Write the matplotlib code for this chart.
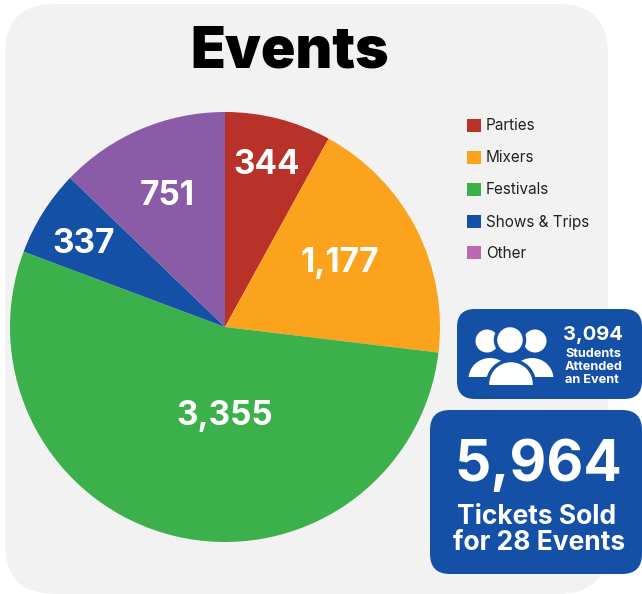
import matplotlib
matplotlib.use("Agg")
import matplotlib.pyplot as plt
from matplotlib.patches import FancyBboxPatch, Rectangle, Circle, Ellipse

categories = ["Parties", "Mixers", "Festivals", "Shows & Trips", "Other"]
# slice shares as drawn in the picture (%), they differ a bit from the printed counts
slice_shares = [8.0, 18.9, 53.8, 6.5, 12.8]
value_labels = ["344", "1,177", "3,355", "337", "751"]
slice_colors = ["#B8322A", "#FBA31C", "#3BB04B", "#1450A5", "#8A5CA8"]
legend_colors = ["#B8322A", "#FBA31C", "#3BB04B", "#1450A5", "#BC67AE"]
label_xy = [(267, 165), (340, 263), (225, 416), (84, 244), (167, 196)]
legend_y = [126, 158, 190, 222, 253]

plt.rcParams['font.family'] = ['Inter', 'DejaVu Sans']

W, H = 642, 594
BLUE = "#1450A5"
fig = plt.figure(figsize=(W / 100, H / 100), dpi=100, facecolor="white")
ax = fig.add_axes([0, 0, 1, 1])
ax.set_xlim(0, W)
ax.set_ylim(H, 0)
ax.axis("off")

# background card
ax.add_patch(FancyBboxPatch((5, 4), 603, 590, boxstyle="round,pad=0,rounding_size=50", fc="#F2F2F2", ec="none"))

ax.text(290, 53, "Events", fontsize=41, fontweight="black", ha="center", va="center", color="black")

# pie, clockwise from 12 o'clock
cx, cy, r = 225, 327, 215
pie_ax = fig.add_axes([(cx - r) / W, 1 - (cy + r) / H, 2 * r / W, 2 * r / H])
pie_ax.pie(slice_shares, colors=slice_colors, startangle=90, counterclock=False, radius=1)
pie_ax.set_xlim(-1, 1)
pie_ax.set_ylim(-1, 1)
pie_ax.patch.set_alpha(0)

# text layer above the pie
top = fig.add_axes([0, 0, 1, 1])
top.set_xlim(0, W)
top.set_ylim(H, 0)
top.axis("off")

for txt, (x, y) in zip(value_labels, label_xy):
    top.text(x, y, txt, fontsize=24, fontweight="bold", color="white", ha="center", va="center")

# legend
for name, col, y in zip(categories, legend_colors, legend_y):
    top.add_patch(Rectangle((467, y - 7), 14, 13, fc=col, ec="none"))
    top.text(486, y, name, fontsize=11, color="#222222", ha="left", va="center")

# small info box
top.add_patch(FancyBboxPatch((457, 309), 185, 90, boxstyle="round,pad=0,rounding_size=18", fc=BLUE, ec="none"))
top.text(593, 335, "3,094", fontsize=14.5, fontweight="bold", color="white", ha="center", va="center")
top.text(593, 354, "Students", fontsize=9.2, fontweight="bold", color="white", ha="center", va="center")
top.text(594, 367, "Attended", fontsize=9.2, fontweight="bold", color="white", ha="center", va="center")
top.text(592, 380, "an Event", fontsize=9.2, fontweight="bold", color="white", ha="center", va="center")

# people icon
clip_side = Rectangle((460, 340), 110, 37, transform=top.transData)
clip_mid = Rectangle((460, 340), 110, 44.5, transform=top.transData)
for hx, bx in [(487, 490), (535, 532)]:
    top.add_patch(Circle((hx, 341), 11.5, fc="white", ec="none"))
    body = Ellipse((bx, 379), 43, 42, fc="white", ec="none")
    top.add_patch(body)
    body.set_clip_path(clip_side)
top.add_patch(Circle((510, 340), 14.5, fc="white", ec=BLUE, lw=2.5))
mid = Ellipse((511, 384), 47, 47, fc="white", ec=BLUE, lw=2.5)
top.add_patch(mid)
mid.set_clip_path(clip_mid)

# big tickets box
top.add_patch(FancyBboxPatch((430, 410), 212, 164, boxstyle="round,pad=0,rounding_size=20", fc=BLUE, ec="none"))
top.text(538, 466, "5,964", fontsize=41, fontweight="bold", color="white", ha="center", va="center")
top.text(537, 517, "Tickets Sold", fontsize=19, fontweight="bold", color="white", ha="center", va="center")
top.text(539, 543, "for 28 Events", fontsize=19, fontweight="bold", color="white", ha="center", va="center")

fig.savefig("out.png", dpi=100, facecolor="white")
